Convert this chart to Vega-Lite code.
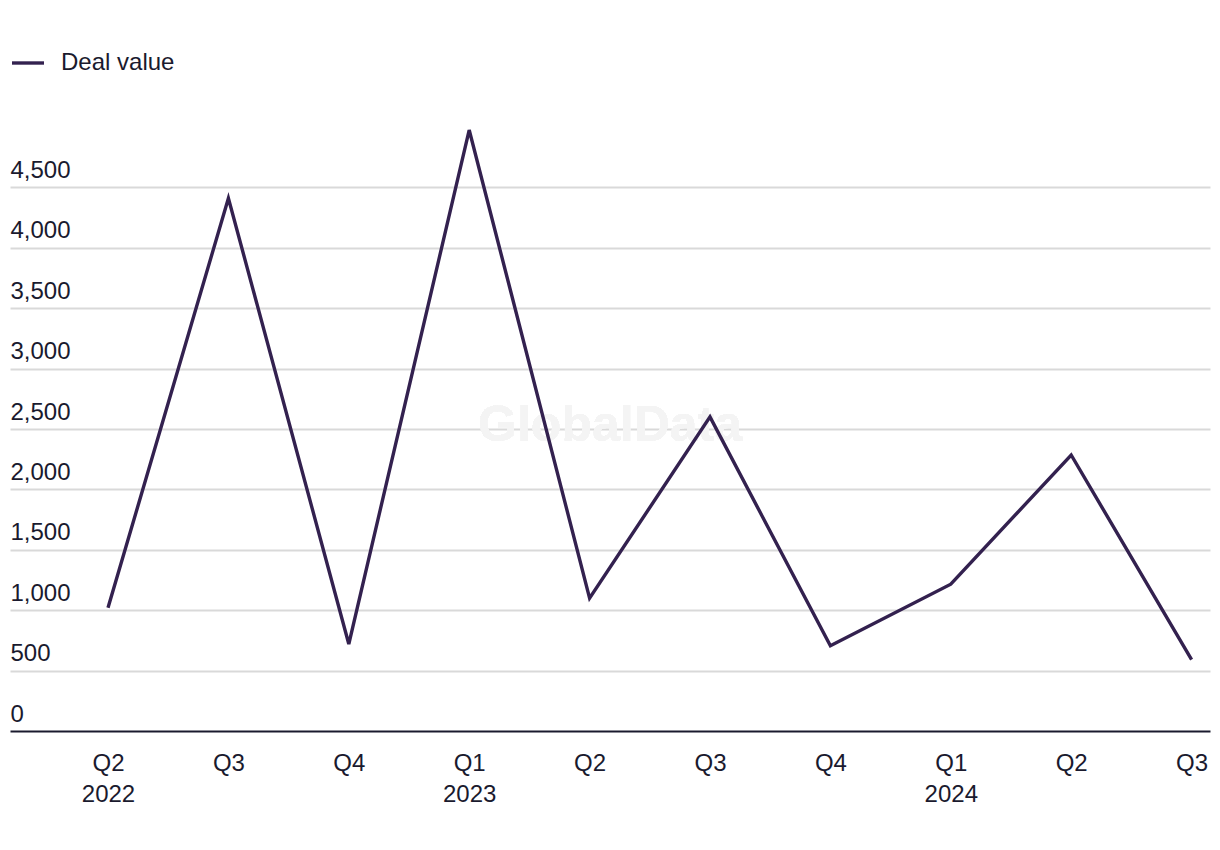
{
  "$schema": "https://vega.github.io/schema/vega-lite/v6.json",
  "width": 1200,
  "height": 604,
  "padding": {"left": 10, "top": 45, "right": 10, "bottom": 40},
  "background": "white",
  "config": {
    "font": "Liberation Sans",
    "view": {"stroke": null}
  },
  "data": {
    "values": [
      {"i": 0, "quarter": "Q2 2022", "value": 1020},
      {"i": 1, "quarter": "Q3 2022", "value": 4410},
      {"i": 2, "quarter": "Q4 2022", "value": 720},
      {"i": 3, "quarter": "Q1 2023", "value": 4975},
      {"i": 4, "quarter": "Q2 2023", "value": 1100},
      {"i": 5, "quarter": "Q3 2023", "value": 2600},
      {"i": 6, "quarter": "Q4 2023", "value": 705},
      {"i": 7, "quarter": "Q1 2024", "value": 1215},
      {"i": 8, "quarter": "Q2 2024", "value": 2285},
      {"i": 9, "quarter": "Q3 2024", "value": 590}
    ]
  },
  "layer": [
    {
      "mark": {"type": "text", "text": "GlobalData", "fontSize": 50, "fontWeight": "bold", "color": "#f4f4f4"},
      "encoding": {
        "x": {"datum": 4.17, "type": "quantitative"},
        "y": {"datum": 2525, "type": "quantitative"}
      }
    },
    {
      "mark": {"type": "line", "strokeWidth": 3.4, "strokeJoin": "miter"},
      "encoding": {
        "x": {
          "field": "i",
          "type": "quantitative",
          "scale": {"domain": [-0.814, 9.153], "nice": false, "zero": false},
          "axis": {
            "title": null,
            "values": [0, 1, 2, 3, 4, 5, 6, 7, 8, 9],
            "ticks": false,
            "grid": false,
            "domain": false,
            "labelAngle": 0,
            "labelFontSize": 24,
            "labelColor": "#1a1a2e",
            "labelPadding": 20,
            "labelBaseline": "top",
            "labelLineHeight": 31,
            "labelFlush": false,
            "labelOverlap": false,
            "labelExpr": "[['Q2','2022'],'Q3','Q4',['Q1','2023'],'Q2','Q3','Q4',['Q1','2024'],'Q2','Q3'][datum.value]"
          }
        },
        "y": {
          "field": "value",
          "type": "quantitative",
          "scale": {"domain": [0, 5000], "nice": false},
          "axis": {
            "title": null,
            "values": [0, 500, 1000, 1500, 2000, 2500, 3000, 3500, 4000, 4500],
            "format": ",.0f",
            "domain": false,
            "ticks": false,
            "grid": true,
            "gridColor": {"condition": {"test": "datum.value === 0", "value": "#1a1a2e"}, "value": "#d9d9d9"},
            "gridWidth": 2,
            "labelAlign": "left",
            "labelBaseline": "alphabetic",
            "labelPadding": 0,
            "labelOffset": -10,
            "labelFontSize": 24,
            "labelColor": "#1a1a2e",
            "labelOverlap": false
          }
        },
        "color": {
          "datum": "Deal value",
          "type": "nominal",
          "scale": {"range": ["#33214f"]},
          "legend": {
            "title": null,
            "orient": "top",
            "symbolType": "stroke",
            "symbolSize": 1024,
            "symbolStrokeWidth": 3.4,
            "labelFontSize": 24,
            "labelColor": "#1a1a2e",
            "labelOffset": 15,
            "offset": 52,
            "padding": 0
          }
        }
      }
    }
  ]
}
